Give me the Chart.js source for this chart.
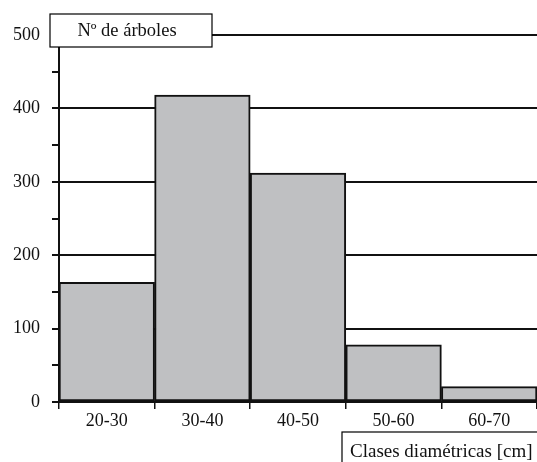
<!DOCTYPE html>
<html>
<head>
<meta charset="utf-8">
<script src="https://cdn.jsdelivr.net/npm/chart.js@4/dist/chart.umd.min.js"></script>
<style>
  html, body { margin: 0; padding: 0; background: #fff; }
  #wrap { width: 537px; height: 462px; }
</style>
</head>
<body>
<div id="wrap"><canvas id="chart"></canvas></div>
<script>
const clases = ['20-30', '30-40', '40-50', '50-60', '60-70'];
const arboles = [163, 418, 312, 78, 21];
const yTitle = 'Nº de árboles';
const xTitle = 'Clases diamétricas [cm]';

const font = { family: '"Liberation Serif", "DejaVu Serif", serif', size: 18 };

// cajas de texto sobre los ejes
const boxes = {
    id: 'boxes',
    afterDraw(chart) {
        const c = chart.ctx;
        c.save();
        c.lineWidth = 1.2;
        c.strokeStyle = '#000';
        c.fillStyle = '#fff';
        c.fillRect(50, 14, 162, 33);
        c.strokeRect(50, 14, 162, 33);
        c.fillRect(342, 432, 200, 40);
        c.strokeRect(342, 432, 200, 40);
        c.fillStyle = '#111';
        c.textBaseline = 'middle';
        c.textAlign = 'center';
        c.font = '18.5px "Liberation Serif", serif';
        c.fillText(yTitle, 127, 31);
        c.textAlign = 'left';
        c.font = '19px "Liberation Serif", serif';
        c.fillText(xTitle, 350, 452);
        c.restore();
    }
};

new Chart(document.getElementById('chart'), {
    type: 'bar',
    data: {
        labels: clases,
        datasets: [{
            data: arboles,
            backgroundColor: '#bfc0c2',
            borderColor: '#111',
            borderWidth: 2,
            borderSkipped: false,
            categoryPercentage: 1,
            barPercentage: 1
        }]
    },
    options: {
        responsive: true,
        maintainAspectRatio: false,
        animation: false,
        layout: { padding: { top: 35, right: 0, left: 0, bottom: 0 } },
        plugins: { legend: { display: false }, tooltip: { enabled: false } },
        scales: {
            x: {
                grid: { drawOnChartArea: false, color: '#111', lineWidth: 1.5, tickLength: 7 },
                border: { color: '#111', width: 2 },
                ticks: { color: '#111', font, padding: 1, maxRotation: 0 },
                afterFit: s => { s.height = 60; }
            },
            y: {
                min: 0,
                max: 500,
                grid: {
                    color: ctx => ctx.tick && ctx.tick.value % 100 === 0 ? '#111' : 'rgba(0,0,0,0)',
                    tickColor: '#111',
                    lineWidth: 2,
                    tickLength: 7
                },
                border: { color: '#111', width: 2 },
                ticks: {
                    stepSize: 50,
                    color: '#111',
                    font,
                    padding: 12,
                    callback: v => v % 100 === 0 ? v : ''
                },
                afterFit: s => { s.width = 59; }
            }
        }
    },
    plugins: [boxes]
});
</script>
</body>
</html>
